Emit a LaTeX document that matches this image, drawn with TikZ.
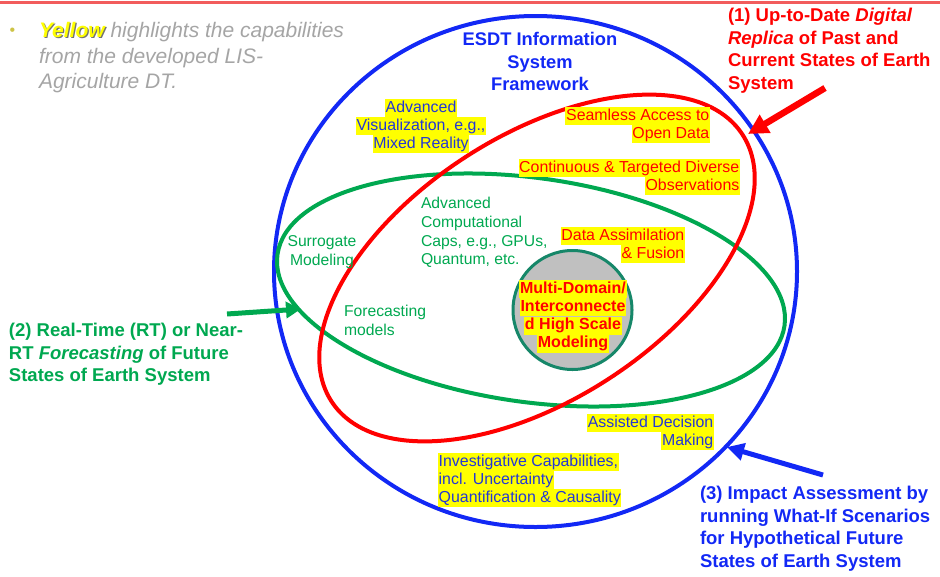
\documentclass[tikz,border=0pt]{standalone}
\usepackage{fontspec}
\setmainfont{Liberation Sans}
\usetikzlibrary{arrows.meta}

\definecolor{esdtblue}{RGB}{18,40,245}
\definecolor{capblue}{RGB}{35,55,215}
\definecolor{dtred}{RGB}{255,0,0}
\definecolor{fcgreen}{RGB}{0,168,80}
\definecolor{hlyellow}{RGB}{255,255,0}
\definecolor{notegray}{RGB}{165,165,165}
\definecolor{bulletkhaki}{RGB}{205,195,70}
\definecolor{coregray}{RGB}{192,192,192}
\definecolor{coreedge}{RGB}{22,135,105}
\definecolor{rulered}{RGB}{242,92,92}

% yellow highlight behind one line of text
\newcommand{\hl}[1]{{\setlength{\fboxsep}{0pt}\colorbox{hlyellow}{\rule[-5pt]{0pt}{18pt}\kern0.7pt#1\kern0.7pt}}}
% word with a dark drop shadow
\newcommand{\shadowed}[1]{\makebox[0pt][l]{\kern1.2pt\raisebox{-1.2pt}{\color{black!55}#1}}{\color{hlyellow}#1}}

\begin{document}
\begin{tikzpicture}[y=1pt, x=1pt, yscale=-1, inner sep=0pt, outer sep=0pt,
    capfont/.style={font=\fontsize{15.9}{18}\selectfont},
    greenfont/.style={font=\fontsize{15.7}{18.7}\selectfont, text=fcgreen},
    bigfont/.style={font=\fontsize{18.5}{22.5}\selectfont\bfseries},
    ring/.style={line width=4pt},
    bigarrow/.style={line width=#1, line join=miter}]
\useasboundingbox (0,0) rectangle (940,576);
\path[draw=rulered,line width=3pt] (0,2.5) -- (940,2.5);

% the three domains and the modeling core
\path[draw=esdtblue,ring] (535.5,271.5) ellipse (261.5 and 255.5);
\path[draw=fcgreen,ring,rotate around={8:(531,290)}] (531,290) ellipse (256 and 112);
\path[draw=dtred,ring,rotate around={-33:(537,268)}] (537,268) ellipse (245 and 132);
\path[draw=coreedge,fill=coregray,line width=3pt] (572.5,310) circle (59.5);

% note at the top left
\node[text=bulletkhaki, font=\fontsize{16}{16}\selectfont] (bullet) at (12.5,31.5) {\textbullet};
\node[anchor=north west, align=left, text=notegray,
  font=\fontsize{21}{25.5}\selectfont\itshape] (note) at (39,22.5)
  {\shadowed{\bfseries Yellow} highlights the capabilities\\
   from the developed LIS-\\Agriculture DT.};

\node[anchor=north, align=center, text=esdtblue,
  font=\fontsize{18.3}{22.5}\selectfont\bfseries] (framework) at (540,32.7)
  {ESDT Information\\System\\Framework};

% outer labels
\node[bigfont, anchor=north west, align=left, text=dtred] (replica) at (728,8.5)
  {(1) Up-to-Date \textit{Digital}\\\textit{Replica} of Past and\\Current States of Earth\\System};
\node[bigfont, anchor=north west, align=left, text=fcgreen] (forecast) at (9,323.5)
  {(2) Real-Time (RT) or Near-\\RT \textit{Forecasting} of Future\\States of Earth System};
\node[bigfont, anchor=north west, align=left, text=esdtblue] (impact) at (700,486.5)
  {(3) Impact Assessment by\\running What-If Scenarios\\for Hypothetical Future\\States of Earth System};

% capabilities
\node[capfont, anchor=north, align=center, text=capblue] (visual) at (421,99)
  {\hl{Advanced}\\\hl{Visualization, e.g.,}\\\hl{Mixed Reality}};
\node[capfont, anchor=north east, align=right, text=dtred] (access) at (710,107)
  {\hl{Seamless Access to}\\\hl{Open Data}};
\node[capfont, anchor=north east, align=right, text=dtred] (observe) at (740,159)
  {\hl{Continuous \& Targeted Diverse}\\\hl{Observations}};
\node[capfont, anchor=north east, align=right, text=dtred] (assim) at (685,227)
  {\hl{Data Assimilation}\\\hl{\& Fusion}};
\node[greenfont, anchor=north west, align=left] (compute) at (421,197.5)
  {Advanced\\Computational\\Caps, e.g., GPUs,\\Quantum, etc.};
\node[greenfont, anchor=north, align=center] (surrogate) at (322,235.5)
  {Surrogate\\Modeling};
\node[greenfont, anchor=north west, align=left] (fcmodels) at (344,305)
  {Forecasting\\models};
\node[anchor=north, align=center, text=dtred,
  font=\fontsize{16}{18.3}\selectfont\bfseries] (multidomain) at (573,280)
  {\hl{Multi-Domain/}\\\hl{Interconnecte}\\\hl{d High Scale}\\\hl{Modeling}};
\node[capfont, anchor=north east, align=right, text=capblue] (decision) at (714,414)
  {\hl{Assisted Decision}\\\hl{Making}};
\node[capfont, anchor=north west, align=left, text=capblue] (investig) at (438,453)
  {\hl{Investigative Capabilities,}\\\hl{incl. Uncertainty}\\\hl{Quantification \& Causality}};

% pointers onto the rings
\coordinate (replicatail) at (825,88);
\coordinate (replicatip) at (748,134);
\coordinate (forecasttail) at (227,314);
\coordinate (forecasttip) at (301,309);
\coordinate (impacttail) at (823,475);
\coordinate (impacttip) at (727,447);
\path[draw=dtred,bigarrow=6.5pt,-{Triangle[length=20pt,width=20pt]}] (replicatail) -- (replicatip);
\path[draw=fcgreen,bigarrow=5pt,-{Triangle[length=15pt,width=16pt]}] (forecasttail) -- (forecasttip);
\path[draw=esdtblue,bigarrow=5pt,-{Triangle[length=17pt,width=17pt]}] (impacttail) -- (impacttip);
\end{tikzpicture}
\end{document}
